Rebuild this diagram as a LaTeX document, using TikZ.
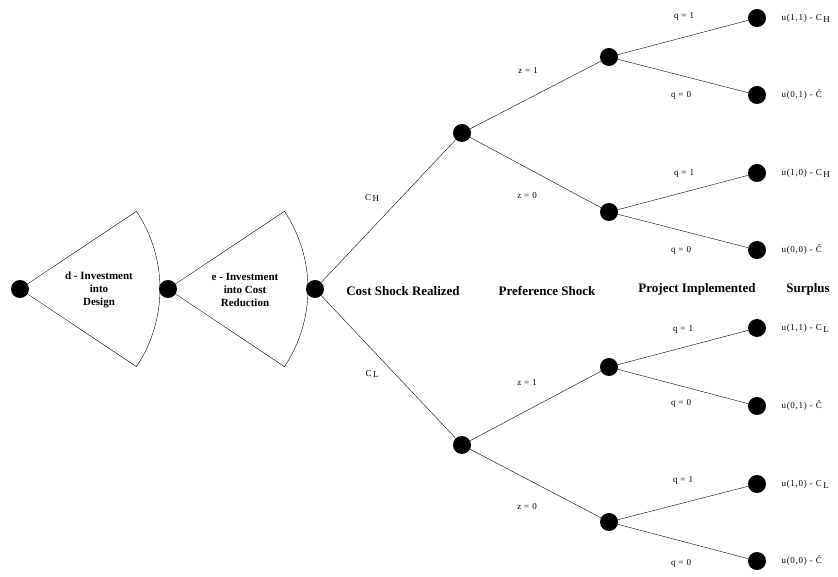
\documentclass[tikz,border=0pt]{standalone}
\usepackage{fontspec}
\setmainfont{Liberation Serif}
\newcommand{\lowsub}[1]{\,\raisebox{-0.45ex}{#1}}
\tikzset{
  dot/.style={circle, fill=black, inner sep=0pt, minimum size=18pt},
  stage/.style={font=\fontsize{13}{15}\selectfont\bfseries},
  lbl/.style={font=\fontsize{9}{10}\selectfont\addfontfeatures{LetterSpace=8}},
  sectortext/.style={font=\fontsize{11}{13}\selectfont\bfseries, align=center}
}
\begin{document}
\begin{tikzpicture}[x=1pt,y=1pt]
  \useasboundingbox (0,0) rectangle (838,576);
  % Investment sectors
  \foreach \px in {20,168}
    \draw (\px,287) -- ++(33.7:140) arc[start angle=33.7, end angle=-33.7, radius=140] -- cycle;
  \node[sectortext] (dtext) at (99,286) {d - Investment\\into\\Design};
  \node[sectortext] (etext) at (245,286) {e - Investment\\into Cost\\Reduction};

  % Decision and chance nodes
  \node[dot] (d) at (20,287) {};
  \node[dot] (e) at (168,287) {};
  \node[dot] (c) at (315,287) {};
  \node[dot] (h) at (462,443) {};
  \node[dot] (l) at (462,131) {};
  \node[dot] (hz1) at (609,519) {};
  \node[dot] (hz0) at (609,364) {};
  \node[dot] (lz1) at (609,209) {};
  \node[dot] (lz0) at (609,54) {};
  % Terminal nodes
  \foreach \n/\y in {1/558,2/481,3/403,4/326,5/248,6/170,7/92,8/15}
    \node[dot] (t\n) at (757,\y) {};

  % Branches
  \foreach \a/\b in {c/h,c/l,h/hz1,h/hz0,l/lz1,l/lz0,hz1/t1,hz1/t2,hz0/t3,hz0/t4,lz1/t5,lz1/t6,lz0/t7,lz0/t8}
    \draw (\a) -- (\b);

  % Stage headings
  \node[stage] (costshock) at (403,285) {Cost Shock Realized};
  \node[stage] (prefshock) at (547,285) {Preference Shock};
  \node[stage] (project) at (697,287) {Project Implemented};
  \node[stage] (surplus) at (808,287) {Surplus};

  % Branch labels
  \node[lbl] (ch) at (372,378) {C\lowsub{H}};
  \node[lbl] (cl) at (372,202) {C\lowsub{L}};
  \foreach \x/\y/\t in {528/505/1,527/380/0,527/193/1,527/69/0}
    \node[lbl] at (\x,\y) {z = \t};
  \foreach \x/\y/\t in {684/560/1,681/481/0,684/403/1,681/326/0,683/247/1,681/173/0,683/96/1,681/13/0}
    \node[lbl] at (\x,\y) {q = \t};

  % Surplus values
  \node[lbl, anchor=west] (s1) at (778,558) {u(1,1) - C\lowsub{H}};
  \node[lbl, anchor=west] (s2) at (778,481) {u(0,1) - \^{C}};
  \node[lbl, anchor=west] (s3) at (778,403) {u(1,0) - C\lowsub{H}};
  \node[lbl, anchor=west] (s4) at (778,326) {u(0,0) - \^{C}};
  \node[lbl, anchor=west] (s5) at (778,248) {u(1,1) - C\lowsub{L}};
  \node[lbl, anchor=west] (s6) at (778,170) {u(0,1) - \^{C}};
  \node[lbl, anchor=west] (s7) at (778,92) {u(1,0) - C\lowsub{L}};
  \node[lbl, anchor=west] (s8) at (778,15) {u(0,0) - \^{C}};
\end{tikzpicture}
\end{document}
